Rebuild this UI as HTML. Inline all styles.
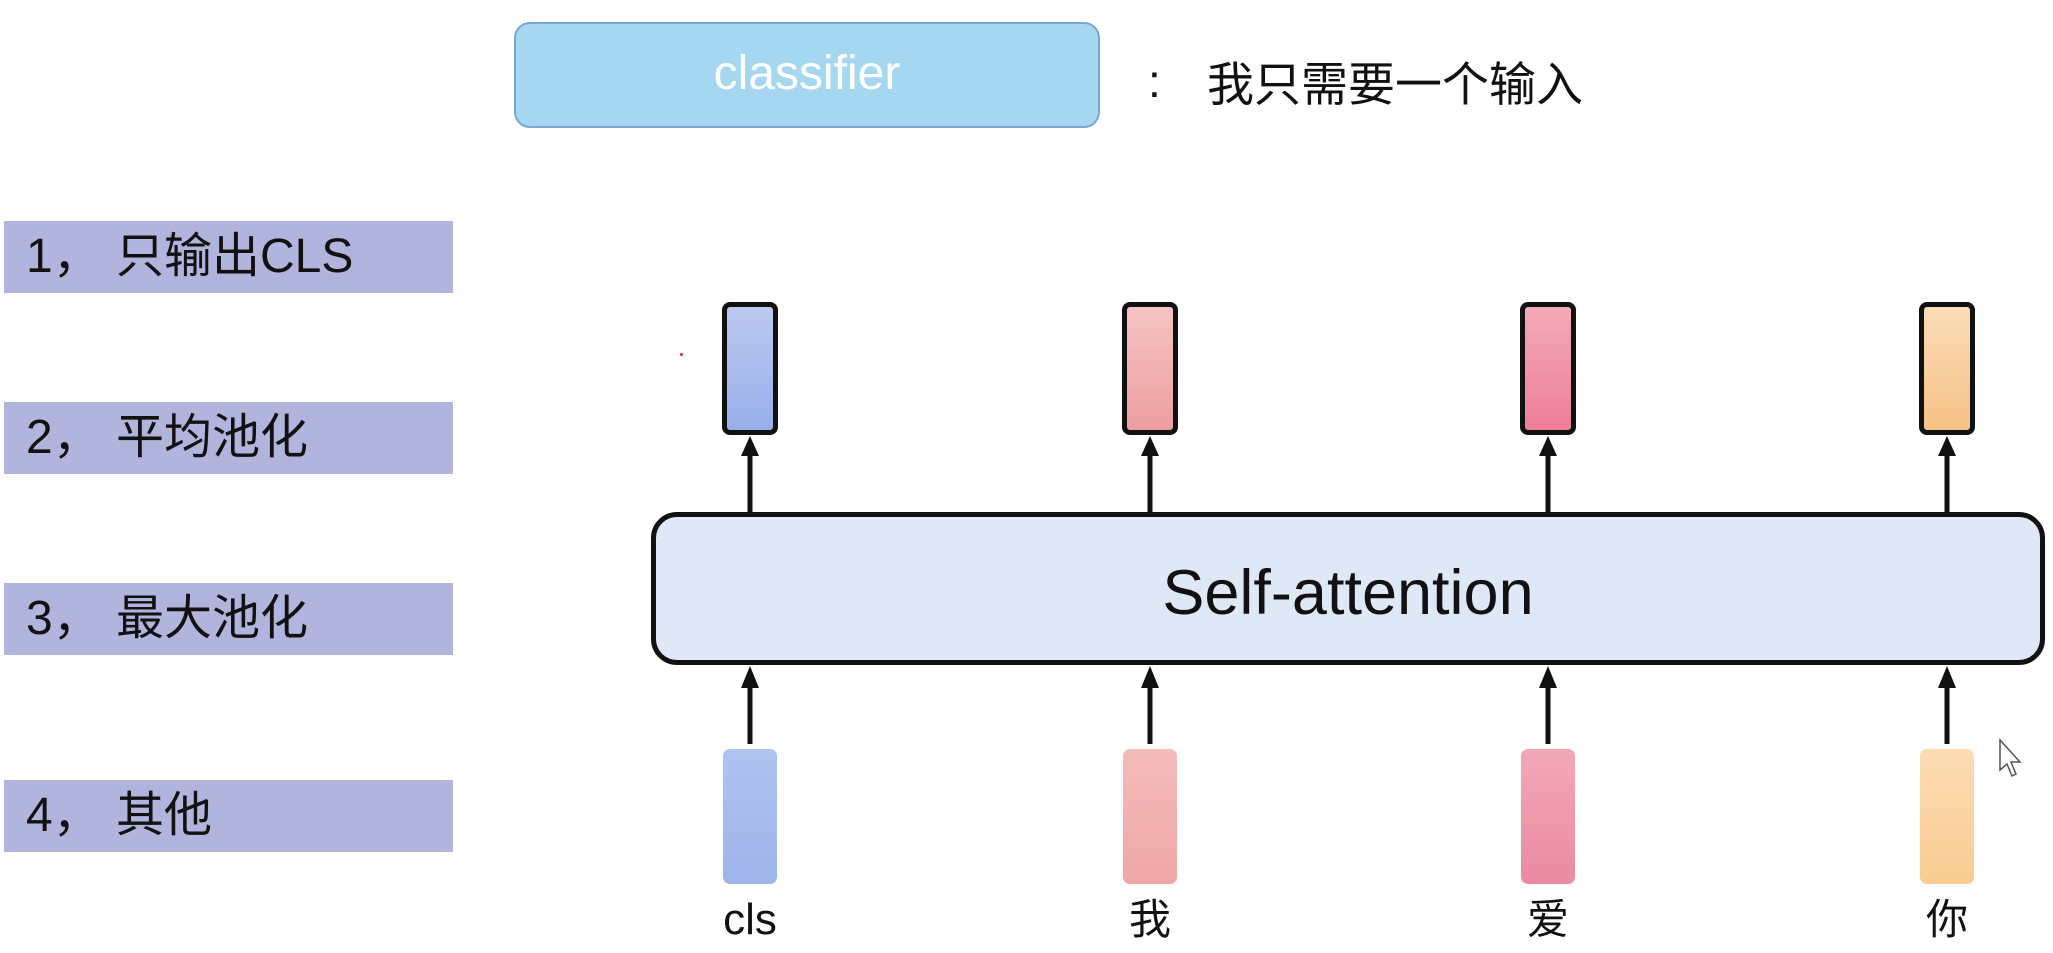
<!DOCTYPE html>
<html><head><meta charset="utf-8"><style>
body{margin:0;width:2053px;height:953px;background:#fff;position:relative;overflow:hidden;font-family:"Liberation Sans","Noto Sans CJK SC",sans-serif}
.a{position:absolute}
.lab{position:absolute;left:4px;width:449px;height:72px;background:#b1b4dc;font-size:48px;color:#111;line-height:72px;padding-left:22px;box-sizing:border-box;white-space:nowrap}
.lab span{display:inline-block;width:90px}
.out{position:absolute;top:302px;width:56px;height:133px;border:5px solid #111;border-radius:8px;box-sizing:border-box}
.inp{position:absolute;top:749px;width:54px;height:135px;border-radius:7px}
.w{position:absolute;top:890px;width:120px;text-align:center;font-size:44px;color:#111;line-height:60px}
</style></head><body>
<div class="a" style="left:514px;top:22px;width:586px;height:106px;background:#a6d7f0;border:2px solid #7ba6d4;border-radius:16px;box-sizing:border-box;color:#fff;font-size:48px;text-align:center;line-height:100px">classifier</div>
<div class="a" style="left:1148px;top:54px;font-size:46px;color:#111">:</div>
<div class="a" style="left:1207px;top:46px;font-size:47px;color:#111;white-space:nowrap">我只需要一个输入</div>
<div class="lab" style="top:221px"><span>1，</span>只输出CLS</div>
<div class="lab" style="top:402px"><span>2，</span>平均池化</div>
<div class="lab" style="top:583px"><span>3，</span>最大池化</div>
<div class="lab" style="top:780px"><span>4，</span>其他</div>
<div class="a" style="left:680px;top:353px;width:3px;height:3px;background:#c33;border-radius:50%"></div>
<div class="a" style="left:651px;top:512px;width:1394px;height:153px;background:#dfe8f6;border:5px solid #111;border-radius:26px;box-sizing:border-box;font-size:63px;color:#111;text-align:center;line-height:152px">Self-attention</div>
<div class="out" style="left:722px;background:linear-gradient(#bccaf0,#98aeea)"></div>
<div class="out" style="left:1122px;background:linear-gradient(#f6c4c4,#ee9ea0)"></div>
<div class="out" style="left:1520px;background:linear-gradient(#f4aab8,#ec7f96)"></div>
<div class="out" style="left:1919px;background:linear-gradient(#fbdcb8,#f6c286)"></div>
<div class="inp" style="left:723px;background:linear-gradient(#b0c2f0,#9fb4ea)"></div>
<div class="inp" style="left:1123px;background:linear-gradient(#f5bcbc,#efa6a6)"></div>
<div class="inp" style="left:1521px;background:linear-gradient(#f3a8b6,#eb8aa0)"></div>
<div class="inp" style="left:1920px;background:linear-gradient(#fcdcb4,#f8cc92)"></div>
<svg class="a" style="left:0;top:0" width="2053" height="953">
<g stroke="#111" stroke-width="5" fill="#111">
<line x1="750" y1="512" x2="750" y2="450"/><polygon points="741,456 750,436 759,456" stroke="none"/>
<line x1="1150" y1="512" x2="1150" y2="450"/><polygon points="1141,456 1150,436 1159,456" stroke="none"/>
<line x1="1548" y1="512" x2="1548" y2="450"/><polygon points="1539,456 1548,436 1557,456" stroke="none"/>
<line x1="1947" y1="512" x2="1947" y2="450"/><polygon points="1938,456 1947,436 1956,456" stroke="none"/>
<line x1="750" y1="744" x2="750" y2="680"/><polygon points="741,688 750,666 759,688" stroke="none"/>
<line x1="1150" y1="744" x2="1150" y2="680"/><polygon points="1141,688 1150,666 1159,688" stroke="none"/>
<line x1="1548" y1="744" x2="1548" y2="680"/><polygon points="1539,688 1548,666 1557,688" stroke="none"/>
<line x1="1947" y1="744" x2="1947" y2="680"/><polygon points="1938,688 1947,666 1956,688" stroke="none"/>
</g>
<polygon points="2000,740 2000,770 2007,764 2012,776 2016,774 2011,762 2020,762" fill="#fff" stroke="#555" stroke-width="1.5"/>
</svg>
<div class="w" style="left:690px">cls</div>
<div class="w" style="left:1090px;font-size:42px">我</div>
<div class="w" style="left:1488px;font-size:42px">爱</div>
<div class="w" style="left:1887px;font-size:42px">你</div>
</body></html>
